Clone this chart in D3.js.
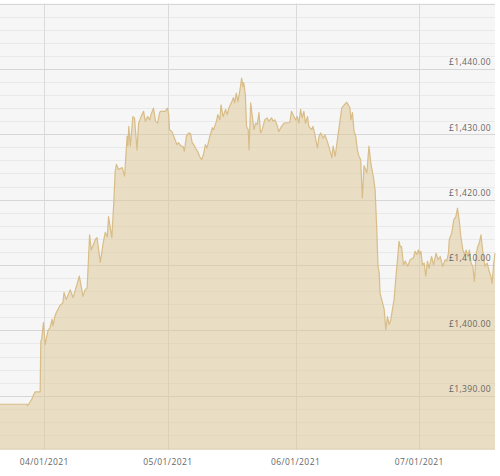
<!DOCTYPE html>
<html>
<head>
<meta charset="utf-8">
<script src="https://cdn.jsdelivr.net/npm/d3@7"></script>
<style>
  html, body { margin: 0; padding: 0; background: #ffffff; }
  svg { display: block; }
  text { font-family: "Open Sans", sans-serif; }
</style>
</head>
<body>
<svg id="chart" width="500" height="476"></svg>
<script>
// ---- data ----
// days since 2021-03-21 00:00
const priceDays = [
  0.25, 6.75, 7.0, 8.0, 8.3, 8.8, 10.0, 10.15, 10.35, 10.8, 11.2, 11.9, 12.4, 12.9, 13.1, 13.6, 13.9, 14.8,
  15.5, 15.8, 16.3, 17.3, 18.0, 19.5, 20.4, 20.9, 21.4, 22.0, 22.4, 23.4, 23.8, 24.6, 25.3, 25.8, 26.3, 26.6,
  27.4, 27.9, 28.2, 28.5, 29.0, 29.9, 30.5, 31.1, 31.3, 31.5, 31.9, 32.5, 32.9, 33.5, 33.9, 34.5, 35.1, 35.5,
  36.1, 36.6, 36.9, 37.5, 38.0, 38.5, 39.0, 39.2, 40.4, 40.6, 40.9, 41.2, 41.4, 42.0, 42.6, 43.2, 43.6, 44.2,
  44.7, 45.0, 45.5, 46.1, 46.5, 46.9, 47.3, 47.7, 48.2, 48.7, 49.2, 49.7, 50.1, 50.5, 51.2, 51.8, 52.1, 52.8,
  53.1, 53.6, 53.9, 54.4, 55.0, 55.4, 55.8, 56.4, 56.9, 57.2, 57.6, 58.0, 58.5, 58.9, 59.2, 59.4, 59.8, 60.1,
  60.5, 60.7, 61.1, 61.5, 61.9, 62.3, 62.7, 63.1, 63.5, 63.9, 64.5, 65.1, 65.5, 66.2, 66.5, 67.0, 67.6, 67.9,
  68.4, 69.2, 70.6, 71.0, 71.6, 72.0, 72.4, 72.8, 73.2, 73.6, 74.0, 74.4, 74.9, 75.2, 75.9, 76.2, 76.7, 77.3,
  77.7, 78.1, 78.7, 79.1, 79.7, 80.3, 80.8, 81.1, 81.6, 82.2, 82.7, 83.2, 83.8, 84.4, 84.8, 85.2, 85.4, 85.8,
  86.2, 86.6, 87.0, 87.4, 87.8, 88.2, 88.6, 89.3, 89.8, 90.3, 90.9, 91.3, 91.7, 92.0, 92.3, 92.5, 93.1, 93.5,
  93.9, 94.3, 94.7, 95.1, 95.5, 95.9, 96.3, 96.8, 97.1, 97.4, 97.7, 98.2, 98.6, 99.2, 99.8, 100.6, 101.0, 101.4,
  101.8, 102.1, 102.4, 102.8, 103.2, 103.6, 104.0, 104.4, 105.0, 105.5, 106.1, 106.6, 107.1, 107.7, 108.3, 108.7,
  109.1, 109.3, 109.9, 110.4, 110.9, 111.3, 111.7, 112.1, 112.6, 113.0, 113.4, 113.8, 114.2, 114.6, 115.0, 115.4,
  115.8, 116.2, 116.6, 117.0, 117.3, 117.7, 118.0, 118.5, 119.0, 119.4, 119.7, 120.1, 120.4
];
const prices = [
  1388.7, 1388.7, 1388.5, 1389.5, 1390.0, 1390.6, 1390.6, 1398.3, 1398.6, 1401.2, 1397.8, 1400.0, 1400.4, 1401.7, 1400.7, 1402.2, 1402.7, 1403.8,
  1404.2, 1405.8, 1404.7, 1406.2, 1405.0, 1408.3, 1405.2, 1406.2, 1406.5, 1414.6, 1412.3, 1413.9, 1414.2, 1410.4, 1413.4, 1415.0, 1414.3, 1417.4,
  1414.2, 1420.0, 1424.3, 1425.4, 1424.6, 1424.9, 1423.6, 1429.7, 1428.2, 1431.2, 1428.2, 1432.7, 1432.5, 1427.6, 1431.7, 1432.7, 1433.5, 1432.0,
  1432.7, 1432.2, 1433.0, 1434.0, 1432.0, 1431.7, 1433.3, 1433.5, 1433.5, 1433.8, 1434.0, 1433.0, 1430.7, 1430.4, 1429.4, 1428.4, 1428.7, 1428.2,
  1428.1, 1427.4, 1429.7, 1430.2, 1430.1, 1428.7, 1428.4, 1427.9, 1427.4, 1426.6, 1426.1, 1427.1, 1428.4, 1427.9, 1429.7, 1431.0, 1430.7, 1432.0,
  1433.0, 1432.2, 1434.5, 1432.7, 1433.8, 1433.0, 1434.0, 1434.8, 1435.6, 1434.8, 1436.3, 1435.0, 1436.8, 1438.6, 1437.3, 1437.9, 1436.1, 1431.2,
  1430.7, 1427.6, 1434.8, 1432.7, 1430.7, 1431.7, 1431.5, 1433.3, 1430.2, 1430.7, 1432.2, 1432.5, 1432.0, 1432.5, 1432.0, 1432.2, 1431.2, 1430.4,
  1431.0, 1431.7, 1431.8, 1433.5, 1432.7, 1432.2, 1432.7, 1431.7, 1433.8, 1432.5, 1433.5, 1431.7, 1432.7, 1431.2, 1430.7, 1431.2, 1429.9, 1427.9,
  1429.7, 1430.2, 1429.4, 1429.9, 1428.9, 1427.6, 1426.4, 1428.2, 1426.6, 1429.4, 1431.7, 1434.0, 1434.5, 1434.9, 1434.5, 1434.0, 1432.2, 1433.3,
  1430.4, 1429.7, 1427.6, 1426.6, 1426.1, 1420.3, 1425.2, 1424.1, 1428.2, 1425.4, 1423.4, 1421.5, 1415.4, 1409.8, 1408.8, 1405.7, 1404.2, 1403.2,
  1400.1, 1402.1, 1400.9, 1401.6, 1403.2, 1404.7, 1407.8, 1411.3, 1413.6, 1412.8, 1412.8, 1410.0, 1410.6, 1409.8, 1410.8, 1411.1, 1412.1, 1411.6,
  1412.3, 1411.6, 1412.1, 1410.0, 1410.3, 1408.3, 1410.6, 1409.5, 1411.3, 1410.0, 1411.8, 1410.8, 1411.3, 1409.8, 1410.8, 1410.6,
  1411.8, 1413.9, 1414.9, 1416.9, 1417.4, 1418.7, 1416.9, 1414.4, 1412.3, 1411.6, 1412.3, 1411.3, 1412.3, 1410.3, 1409.8, 1407.5,
  1411.6, 1412.8, 1413.4, 1414.6, 1412.8, 1410.8, 1409.8, 1410.3, 1409.0, 1408.3, 1407.2, 1410.3, 1411.8
];
const originDate = "2021-03-21";
const xTickLabels = ["04/01/2021", "05/01/2021", "06/01/2021", "07/01/2021"];
const yLabelTicks = [1390, 1400, 1410, 1420, 1430, 1440];
const yMin = 1381.7, yMax = 1450;

// ---- layout ----
const W = 500, H = 476;
const plot = { left: 0, right: 495, top: 3.5, bottom: 450 };

const origin = d3.timeParse("%Y-%m-%d")(originDate);
const data = priceDays.map((d, i) => ({
  date: d3.timeMinute.offset(origin, Math.round(d * 24 * 60)),
  value: prices[i]
}));

const x = d3.scaleTime()
  .domain(d3.extent(data, d => d.date))
  .range([plot.left, plot.right]);
const y = d3.scaleLinear()
  .domain([yMin, yMax])
  .range([plot.bottom, plot.top]);

const svg = d3.select("#chart");

// plot background
svg.append("rect")
  .attr("x", plot.left).attr("y", plot.top)
  .attr("width", plot.right - plot.left).attr("height", plot.bottom - plot.top)
  .attr("fill", "#f6f6f6");

// minor grid (every 2)
const minorTicks = d3.range(Math.ceil(yMin / 2) * 2, yMax + 0.1, 2).filter(v => v % 10 !== 0);
svg.append("g").selectAll("line").data(minorTicks).join("line")
  .attr("x1", plot.left).attr("x2", plot.right)
  .attr("y1", d => Math.round(y(d)) + 0.5).attr("y2", d => Math.round(y(d)) + 0.5)
  .attr("stroke", "#e9e9e9").attr("stroke-width", 1);

// major grid (every 10)
const majorTicks = d3.range(1390, yMax + 0.1, 10);
svg.append("g").selectAll("line").data(majorTicks).join("line")
  .attr("x1", plot.left).attr("x2", plot.right)
  .attr("y1", d => Math.round(y(d)) + 0.5).attr("y2", d => Math.round(y(d)) + 0.5)
  .attr("stroke", "#d6d6d6").attr("stroke-width", 1);

// vertical grid
const parseTick = d3.timeParse("%m/%d/%Y");
const xTicks = xTickLabels.map(s => ({ label: s, date: parseTick(s) }));
svg.append("g").selectAll("line").data(xTicks).join("line")
  .attr("x1", d => Math.round(x(d.date)) + 0.5).attr("x2", d => Math.round(x(d.date)) + 0.5)
  .attr("y1", plot.top).attr("y2", plot.bottom)
  .attr("stroke", "#dadada").attr("stroke-width", 1);

// area
const area = d3.area()
  .x(d => x(d.date))
  .y0(plot.bottom)
  .y1(d => y(d.value));
svg.append("path")
  .datum(data)
  .attr("d", area)
  .attr("fill", "#dec899")
  .attr("fill-opacity", 0.55);

const line = d3.line()
  .x(d => x(d.date))
  .y(d => y(d.value));
svg.append("path")
  .datum(data)
  .attr("d", line)
  .attr("fill", "none")
  .attr("stroke", "#d8bd88")
  .attr("stroke-width", 1.2)
  .attr("stroke-linejoin", "round");

// y labels
const fmt = d3.format(",.2f");
svg.append("g").selectAll("text").data(yLabelTicks).join("text")
  .attr("x", 491)
  .attr("y", d => y(d) - 3.5)
  .attr("text-anchor", "end")
  .attr("font-size", "8.5px")
  .attr("letter-spacing", "0.4px")
  .attr("fill", "#666666")
  .text(d => "£" + fmt(d));

// x labels
svg.append("g").selectAll("text").data(xTicks).join("text")
  .attr("x", d => x(d.date))
  .attr("y", 465)
  .attr("text-anchor", "middle")
  .attr("font-size", "8.5px")
  .attr("letter-spacing", "0.4px")
  .attr("fill", "#666666")
  .text(d => d.label);
</script>
</body>
</html>
